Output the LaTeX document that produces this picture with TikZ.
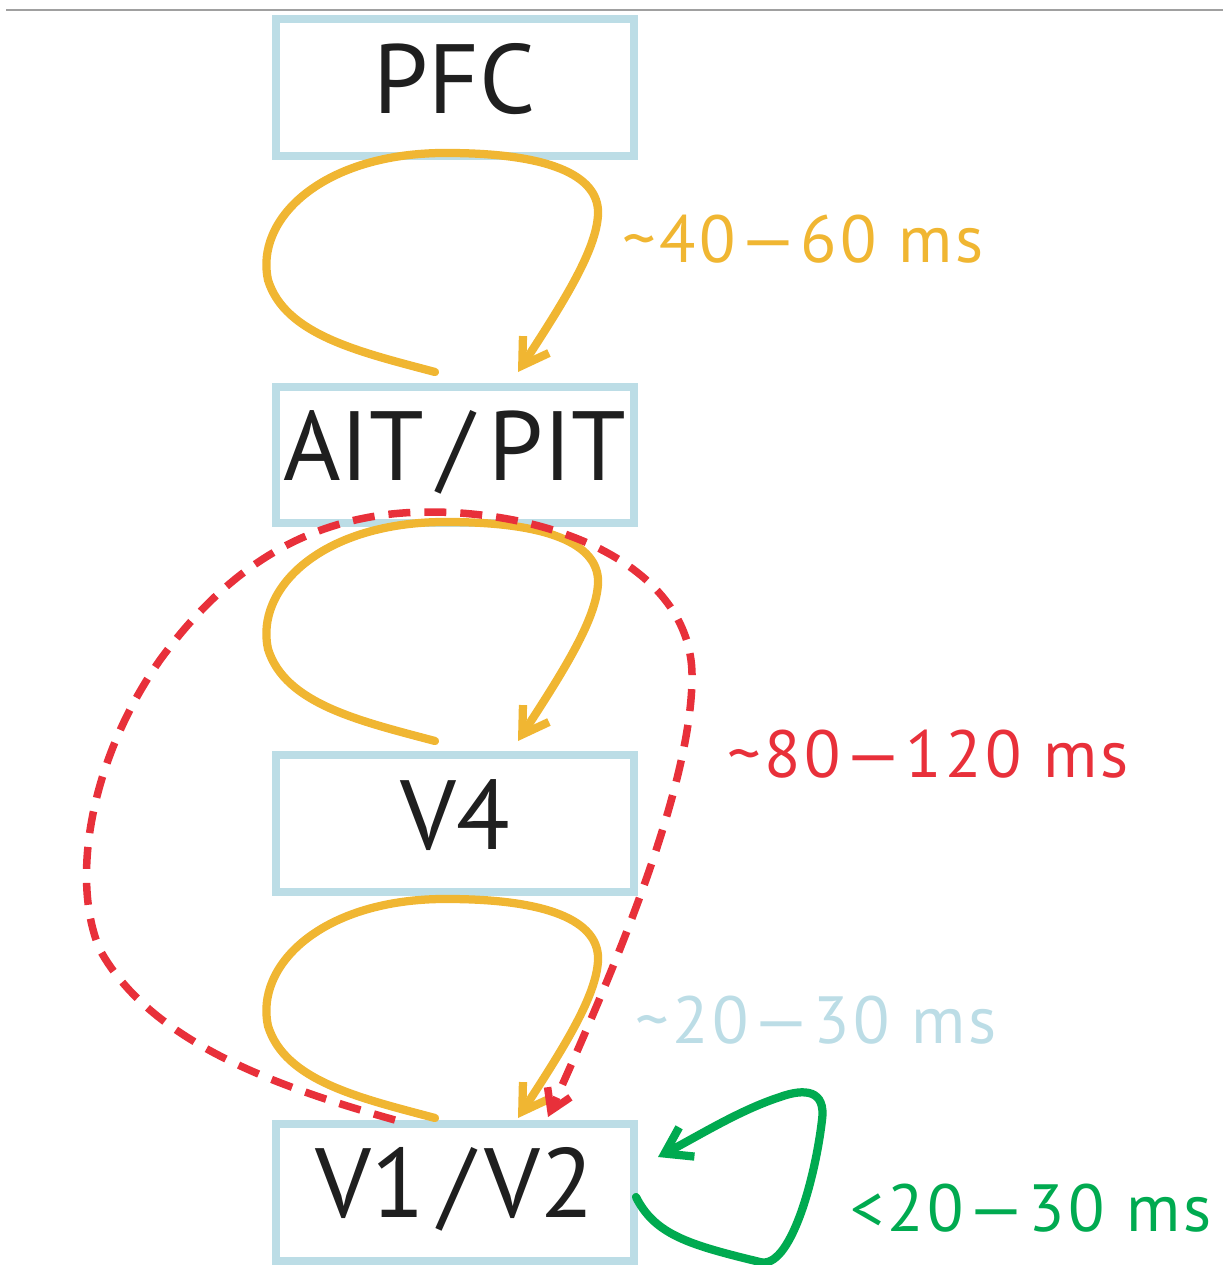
\documentclass[tikz,border=0pt]{standalone}
\usepackage{fontspec}
\usepackage{graphicx}
\setmainfont{PT Sans}
\usetikzlibrary{arrows.meta,calc}
\definecolor{boxblue}{RGB}{188,221,230}
\definecolor{loopor}{RGB}{240,182,50}
\definecolor{loopred}{RGB}{232,48,58}
\definecolor{loopgreen}{RGB}{0,170,80}
\definecolor{rulegray}{RGB}{160,160,160}
\newcommand{\wdash}{\scalebox{1.45}[1]{–}}
\tikzset{
  area/.style={draw=boxblue, line width=0.16cm, minimum width=7.16cm, minimum height=2.74cm,
    text height=1.38cm, text depth=0.36cm, inner sep=0pt, font=\fontsize{56}{60}\selectfont, text=black!88},
  lbl/.style={anchor=base west, inner sep=0pt, font=\fontsize{38}{40}\selectfont\addfontfeatures{LetterSpace=5.5}},
  orloop/.style={draw=loopor, line width=0.165cm, line cap=round,
    -{Straight Barb[length=0.5cm, width=0.62cm]}},
  redloop/.style={draw=loopred, line width=0.15cm, dash pattern=on 0.44cm off 0.28cm,
    -{Straight Barb[length=0.4cm, width=0.5cm]}},
  grloop/.style={draw=loopgreen, line width=0.165cm, line cap=round,
    -{Straight Barb[length=0.5cm, width=0.66cm]}}
}
\begin{document}
\begin{tikzpicture}[x=0.02cm, y=-0.02cm]
\useasboundingbox (0,0) rectangle (1223,1265);
\draw[rulegray, line width=0.05cm] (6,10) -- (1223,10);
\node[area] (pfc) at (455,87.5) {PFC};
\node[area] (ait) at (455,455) {AIT\hspace{0.15em}/\hspace{0.15em}PIT};
\node[area] (v4) at (455,823.5) {V4};
\node[area] (v1) at (455,1192) {V1\hspace{0.15em}/\hspace{0.1em}V2};
% orange loops
\foreach \tgt/\dy in {ait/0, v4/369, v1/746}{
  \coordinate (s\tgt) at (435,372+\dy);
  \coordinate (e\tgt) at (518,372+\dy);
  \path[orloop] (s\tgt) .. controls (360,352+\dy) and (285,335+\dy) .. (268,280+\dy)
     .. controls (255,220+\dy) and (320,155+\dy) .. (440,153+\dy)
     .. controls (560,152+\dy) and (600,180+\dy) .. (598,215+\dy)
     .. controls (596,250+\dy) and (565,300+\dy) .. (e\tgt);
}
% red dashed loop
\coordinate (rs) at (395,1120);
\coordinate (re) at (548,1117);
\path[redloop] (rs) .. controls (270,1085) and (150,1040) .. (100,950)
  .. controls (70,880) and (90,760) .. (160,660)
  .. controls (240,550) and (330,512) .. (430,512)
  .. controls (560,512) and (695,570) .. (692,680)
  .. controls (690,800) and (600,1000) .. (re);
% green loop
\coordinate (gs) at (636,1197);
\coordinate (ge) at (658,1157);
\path[grloop] (gs) .. controls (655,1235) and (690,1245) .. (760,1262)
  .. controls (790,1270) and (815,1180) .. (822,1120)
  .. controls (826,1090) and (805,1088) .. (780,1097)
  .. controls (740,1110) and (700,1135) .. (ge);
% labels
\node[lbl, text=loopor] (l1) at (622,262) {\textasciitilde40\wdash60 ms};
\node[lbl, text=loopred] (l2) at (727,777) {\textasciitilde80\wdash120 ms};
\node[lbl, text=boxblue] (l3) at (635,1043) {\textasciitilde20\wdash30 ms};
\node[lbl, text=loopgreen] (l4) at (850,1231) {<20\wdash30 ms};
\end{tikzpicture}
\end{document}
